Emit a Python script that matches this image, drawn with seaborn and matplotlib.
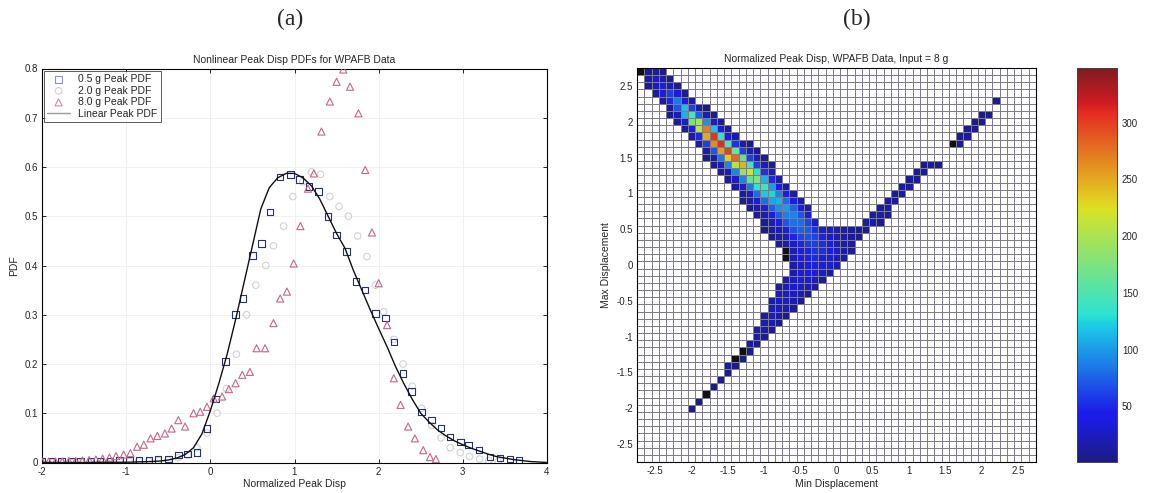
import numpy as np
import pandas as pd
import matplotlib
matplotlib.use("Agg")
import matplotlib.pyplot as plt
import seaborn as sns
from matplotlib.colors import ListedColormap

# ---------------- Panel (a) data ----------------
lin_x = [-2.0, -1.5, -1.0, -0.9, -0.8, -0.7, -0.6, -0.5, -0.4, -0.3, -0.2, -0.1,
         0.0, 0.1, 0.2, 0.3, 0.4, 0.5, 0.6, 0.7, 0.8, 0.9, 1.0, 1.1, 1.2, 1.3, 1.4,
         1.5, 1.6, 1.7, 1.8, 1.9, 2.0, 2.1, 2.2, 2.3, 2.4, 2.5, 2.6, 2.7, 2.8, 2.9,
         3.0, 3.1, 3.2, 3.3, 3.4, 3.5, 3.6, 3.7, 3.8, 3.9, 4.0]
lin_y = [0.0, 0.0, 0.0005, 0.001, 0.0015, 0.002, 0.003, 0.005, 0.009, 0.016, 0.03, 0.058,
         0.105, 0.16, 0.22, 0.29, 0.365, 0.44, 0.515, 0.558, 0.578, 0.587, 0.587, 0.578,
         0.562, 0.535, 0.50, 0.465, 0.435, 0.39, 0.35, 0.31, 0.272, 0.235, 0.195, 0.16,
         0.128, 0.10, 0.082, 0.066, 0.054, 0.044, 0.036, 0.029, 0.023, 0.017, 0.012,
         0.009, 0.006, 0.004, 0.002, 0.001, 0.0]

g05_x = [-2.0, -1.88, -1.77, -1.65, -1.54, -1.42, -1.31, -1.19, -1.08, -0.96, -0.85,
         -0.73, -0.62, -0.50, -0.38, -0.27, -0.16, -0.04, 0.06, 0.18, 0.30, 0.39, 0.50,
         0.61, 0.71, 0.83, 0.95, 1.06, 1.17, 1.285, 1.40, 1.50, 1.62, 1.73, 1.84, 1.96,
         2.08, 2.18, 2.29, 2.39, 2.51, 2.63, 2.74, 2.85, 2.97, 3.07, 3.19, 3.32, 3.44,
         3.56, 3.67]
g05_y = [0.002, 0.002, 0.002, 0.002, 0.002, 0.002, 0.003, 0.003, 0.004, 0.004, 0.004,
         0.005, 0.006, 0.007, 0.015, 0.017, 0.02, 0.069, 0.129, 0.205, 0.30, 0.333, 0.42,
         0.445, 0.509, 0.58, 0.585, 0.575, 0.56, 0.55, 0.50, 0.462, 0.428, 0.367, 0.35,
         0.303, 0.293, 0.245, 0.181, 0.144, 0.103, 0.086, 0.07, 0.052, 0.042, 0.036,
         0.025, 0.011, 0.009, 0.007, 0.004]

g20_x = [-2.0, -1.88, -1.77, -1.65, -1.54, -1.42, -1.31, -1.19, -1.08, -0.96, -0.85,
         -0.73, -0.62, -0.50, -0.38, -0.27, -0.16, -0.04, 0.08, 0.19, 0.31, 0.43, 0.54,
         0.66, 0.75, 0.87, 0.98, 1.10, 1.20, 1.31, 1.42, 1.53, 1.64, 1.75, 1.86, 1.96,
         2.06, 2.18, 2.29, 2.40, 2.51, 2.63, 2.74, 2.85, 2.97, 3.08, 3.20, 3.31, 3.42]
g20_y = [0.0, 0.0, 0.0, 0.0, 0.0, 0.001, 0.001, 0.001, 0.002, 0.002, 0.003,
         0.003, 0.004, 0.005, 0.01, 0.015, 0.03, 0.06, 0.10, 0.15, 0.22, 0.30, 0.36,
         0.40, 0.44, 0.48, 0.54, 0.57, 0.59, 0.585, 0.54, 0.52, 0.50, 0.46, 0.418, 0.36,
         0.306, 0.25, 0.20, 0.155, 0.11, 0.075, 0.05, 0.03, 0.02, 0.012, 0.007, 0.004,
         0.002]

g80_x = [-2.0, -1.92, -1.84, -1.76, -1.68, -1.60, -1.52, -1.44, -1.36, -1.28, -1.20,
         -1.12, -1.03, -0.95, -0.87, -0.79, -0.71, -0.63, -0.54, -0.46, -0.38, -0.30,
         -0.20, -0.12, -0.04, 0.04, 0.14, 0.22, 0.30, 0.38, 0.47, 0.55, 0.65, 0.75, 0.83,
         0.91, 0.99, 1.07, 1.16, 1.23, 1.32, 1.42, 1.50, 1.58, 1.66, 1.76, 1.84, 1.92,
         2.00, 2.10, 2.18, 2.26, 2.35, 2.43, 2.53, 2.61, 2.68]
g80_y = [0.002, 0.002, 0.002, 0.002, 0.003, 0.003, 0.004, 0.005, 0.006, 0.008, 0.010,
         0.013, 0.016, 0.019, 0.032, 0.036, 0.049, 0.054, 0.059, 0.069, 0.086, 0.073,
         0.10, 0.103, 0.113, 0.13, 0.134, 0.149, 0.161, 0.178, 0.184, 0.232, 0.232, 0.283,
         0.333, 0.347, 0.404, 0.48, 0.556, 0.587, 0.672, 0.733, 0.773, 0.798, 0.763,
         0.709, 0.594, 0.467, 0.364, 0.279, 0.171, 0.117, 0.073, 0.049, 0.025, 0.011,
         0.007]

# ---------------- Panel (b) data ----------------
bin_centers = [round(-2.7 + 0.1 * k, 1) for k in range(55)]
# (row centre y, first column centre x, counts along the row)
heat_rows = [
    (2.7, -2.6, [10, 14, 5]),
    (2.6, -2.6, [12, 25, 18, 5]),
    (2.5, -2.6, [8, 22, 40, 25, 6]),
    (2.4, -2.5, [10, 35, 60, 35, 8]),
    (2.3, -2.4, [12, 50, 85, 45, 10]),
    (2.2, -2.3, [12, 70, 115, 60, 18, 6]),
    (2.1, -2.3, [6, 20, 110, 150, 75, 22, 6]),
    (2.0, -2.2, [8, 30, 170, 200, 95, 28, 8]),
    (1.9, -2.1, [10, 40, 210, 270, 115, 35, 10]),
    (1.8, -2.0, [12, 50, 250, 305, 135, 45, 12]),
    (1.7, -1.9, [14, 60, 265, 310, 155, 55, 18, 6]),
    (1.6, -1.8, [15, 70, 255, 300, 165, 60, 20, 6]),
    (1.5, -1.8, [6, 18, 85, 235, 280, 155, 60, 22, 8]),
    (1.4, -1.7, [6, 20, 90, 205, 245, 145, 60, 24, 8]),
    (1.3, -1.6, [8, 22, 90, 185, 220, 130, 55, 20]),
    (1.2, -1.5, [10, 25, 90, 160, 175, 110, 50, 18]),
    (1.1, -1.4, [10, 28, 85, 135, 145, 100, 45, 16]),
    (1.0, -1.3, [12, 30, 80, 120, 125, 90, 42, 15]),
    (0.9, -1.3, [5, 14, 35, 80, 105, 110, 80, 40, 14]),
    (0.8, -1.2, [6, 16, 38, 75, 95, 100, 75, 38, 14]),
    (0.7, -1.1, [8, 18, 40, 72, 88, 90, 70, 35]),
    (0.6, -1.0, [10, 20, 42, 70, 82, 80, 62, 32]),
    (0.5, -1.0, [5, 12, 24, 45, 68, 75, 72, 55, 30, 20, 15, 12, 10, 8, 5]),
    (0.4, -0.9, [6, 14, 28, 48, 62, 68, 62, 48, 28, 18, 12, 8, 5]),
    (0.3, -0.8, [8, 16, 30, 48, 58, 60, 52, 40, 22, 14, 8]),
    (0.2, -0.7, [10, 20, 34, 48, 54, 52, 44, 30, 16, 8]),
    (0.1, -0.7, [12, 24, 38, 48, 50, 45, 36, 24, 12]),
    (0.0, -0.6, [14, 28, 40, 46, 44, 36, 24]),
    (-0.1, -0.6, [14, 30, 38, 36, 26, 12]),
    (-0.2, -0.7, [12, 26, 34, 32, 22, 10]),
    (-0.3, -0.8, [10, 22, 30, 28, 18, 8]),
    (-0.4, -0.8, [18, 28, 28, 18, 8]),
    (-0.5, -0.9, [14, 24, 26, 16, 6]),
    (-0.6, -0.9, [18, 24, 18, 6]),
    (-0.7, -1.0, [14, 22, 16, 5]),
    (-0.8, -1.0, [18, 18, 6]),
    (-0.9, -1.1, [14, 16, 5]),
    (-1.0, -1.1, [14, 10]),
    (-1.1, -1.2, [12, 8]),
    (-1.2, -1.3, [10, 6]),
    (-1.3, -1.4, [8, 5]),
    (-1.4, -1.5, [8, 5]),
    (-1.5, -1.5, [7]),
    (-1.6, -1.6, [7]),
    (-1.7, -1.7, [6]),
    (-1.8, -1.8, [5]),
    (-1.9, -1.9, [5]),
    (-2.0, -2.0, [5]),
    # branch towards positive peaks
    (0.6, 0.4, [12, 16, 6]),
    (0.7, 0.5, [14, 16, 5]),
    (0.8, 0.6, [14, 14]),
    (0.9, 0.7, [13, 13]),
    (1.0, 0.8, [12, 12]),
    (1.1, 0.9, [11, 10]),
    (1.2, 1.0, [10, 9]),
    (1.3, 1.1, [9, 8]),
    (1.4, 1.2, [7, 8, 6]),
    (1.7, 1.7, [7]),
    (1.8, 1.7, [6, 6]),
    (1.9, 1.8, [6, 5]),
    (2.0, 1.9, [5, 5]),
    (2.1, 2.0, [5, 4]),
    (2.3, 2.2, [5]),
]
# near-black cells visible in the plot (x, y)
dark_cells = [(-2.7, 2.7), (-0.7, 0.2), (-0.7, 0.1), (1.6, 1.7),
              (-1.3, -1.2), (-1.4, -1.3), (-1.8, -1.8)]
cbar_ticks = [50, 100, 150, 200, 250, 300]
heat_vmin, heat_vmax = 1, 348

# ---------------- styling ----------------
sns.set_theme(style="white")
plt.rcParams['font.family'] = ['Liberation Sans', 'DejaVu Sans']
plt.rcParams['axes.edgecolor'] = 'black'
plt.rcParams['axes.linewidth'] = 0.8
plt.rcParams['axes.unicode_minus'] = False

W, H = 1153, 493
fig = plt.figure(figsize=(W / 100, H / 100), dpi=100)
fig.patch.set_facecolor('white')

def frac(l, t, r, b):
    return [l / W, 1 - b / H, (r - l) / W, (b - t) / H]

# ---------------- Panel (a) ----------------
ax1 = fig.add_axes(frac(42, 68.5, 547, 462.5))
c_sq, c_ci, c_tr, c_ln = '#26336e', '#d2d2d6', '#c8668a', '#111111'
sns.scatterplot(x=g05_x, y=g05_y, ax=ax1, marker='s', s=22, facecolor='none',
                edgecolor=c_sq, linewidth=0.8, label='0.5 g Peak PDF', zorder=3)
sns.scatterplot(x=g20_x, y=g20_y, ax=ax1, marker='o', s=22, facecolor='none',
                edgecolor=c_ci, linewidth=0.8, label='2.0 g Peak PDF', zorder=2)
sns.scatterplot(x=g80_x, y=g80_y, ax=ax1, marker='^', s=26, facecolor='none',
                edgecolor=c_tr, linewidth=0.8, label='8.0 g Peak PDF', zorder=3)
sns.lineplot(x=lin_x, y=lin_y, ax=ax1, color=c_ln, linewidth=1.0,
             label='Linear Peak PDF', zorder=4)
ax1.set_xlim(-2, 4)
ax1.set_ylim(0, 0.8)
ax1.set_xticks([-2, -1, 0, 1, 2, 3, 4])
ax1.set_yticks([0, 0.1, 0.2, 0.3, 0.4, 0.5, 0.6, 0.7, 0.8])
ax1.set_yticklabels(['0', '0.1', '0.2', '0.3', '0.4', '0.5', '0.6', '0.7', '0.8'])
ax1.tick_params(direction='in', length=3, width=0.7, labelsize=7, top=True, right=True,
                bottom=True, left=True, pad=3)
ax1.grid(True, color='#f0f0f3', linewidth=0.7)
ax1.set_xlabel('Normalized Peak Disp', fontsize=7.5, labelpad=2)
ax1.set_ylabel('PDF', fontsize=7.5, labelpad=4)
ax1.set_title('Nonlinear Peak Disp PDFs for WPAFB Data', fontsize=7.5, pad=4)
leg = ax1.legend(loc='upper left', bbox_to_anchor=(0.004, 0.994), fontsize=7.5,
                 frameon=True, fancybox=False, borderaxespad=0, handlelength=2.2,
                 labelspacing=0.15, borderpad=0.3, handletextpad=0.8)
leg.get_frame().set_edgecolor('#333333')
leg.get_frame().set_linewidth(0.7)
leg.legend_handles[0].set_edgecolor('#8a96c0')
leg.legend_handles[2].set_edgecolor('#d98aa4')
leg.legend_handles[3].set_color('#9a9a9a')
for spine in ax1.spines.values():
    spine.set_visible(True)
    spine.set_color('black')

# ---------------- Panel (b) ----------------
n = len(bin_centers)
Z = np.zeros((n, n))
for yc, x0, vals in heat_rows:
    j = int(round((yc + 2.7) / 0.1))
    i0 = int(round((x0 + 2.7) / 0.1))
    for k, v in enumerate(vals):
        Z[j, i0 + k] = v
D = np.zeros((n, n))
for xc, yc in dark_cells:
    D[int(round((yc + 2.7) / 0.1)), int(round((xc + 2.7) / 0.1))] = 1

df = pd.DataFrame(Z[::-1], index=bin_centers[::-1], columns=bin_centers)
dd = pd.DataFrame(D[::-1], index=bin_centers[::-1], columns=bin_centers)

jet = plt.get_cmap('jet')(np.linspace(0, 1, 256))
grey = np.array([0.5, 0.5, 0.58, 1.0])
muted = 0.78 * jet + 0.22 * grey
muted[:, 3] = 1
cmap = ListedColormap(muted)
cmap.set_under('white')

ax2 = fig.add_axes(frac(637, 68, 1036, 462))
cax = fig.add_axes(frac(1077, 68, 1117, 462))
sns.heatmap(df, ax=ax2, cmap=cmap, vmin=heat_vmin, vmax=heat_vmax, cbar=True,
            cbar_ax=cax, linewidths=0.6, linecolor='#7c7c8a',
            xticklabels=False, yticklabels=False)
sns.heatmap(dd, ax=ax2, cmap=ListedColormap(['#111111']), mask=(dd.values == 0),
            cbar=False, linewidths=0.6, linecolor='#7c7c8a',
            xticklabels=False, yticklabels=False)
tick_vals = [-2.5, -2, -1.5, -1, -0.5, 0, 0.5, 1, 1.5, 2, 2.5]
tick_lbls = ['-2.5', '-2', '-1.5', '-1', '-0.5', '0', '0.5', '1', '1.5', '2', '2.5']
ax2.set_xticks([(v + 2.75) / 0.1 for v in tick_vals])
ax2.set_xticklabels(tick_lbls, rotation=0)
ax2.set_yticks([(2.75 - v) / 0.1 for v in tick_vals])
ax2.set_yticklabels(tick_lbls, rotation=0)
ax2.tick_params(direction='in', length=3, width=0.7, labelsize=7, top=True, right=True,
                bottom=True, left=True, pad=3)
for spine in ax2.spines.values():
    spine.set_visible(True)
    spine.set_color('black')
    spine.set_linewidth(0.8)
ax2.set_xlabel('Min Displacement', fontsize=7.5, labelpad=2)
ax2.set_ylabel('Max Displacement', fontsize=7.5, labelpad=4)
ax2.set_title('Normalized Peak Disp, WPAFB Data, Input = 8 g', fontsize=7.5, pad=4)

cax.set_yticks(cbar_ticks)
cax.tick_params(labelsize=7, length=3, width=0.6, direction='in', right=True, left=True)
for spine in cax.spines.values():
    spine.set_visible(True)
    spine.set_color('#444444')
    spine.set_linewidth(0.6)

fig.text(290 / W, 1 - 19 / H, '(a)', fontsize=17, family='Liberation Serif',
         ha='center', va='center')
fig.text(857 / W, 1 - 19 / H, '(b)', fontsize=17, family='Liberation Serif',
         ha='center', va='center')

fig.savefig('out.png', dpi=100, facecolor='white')
